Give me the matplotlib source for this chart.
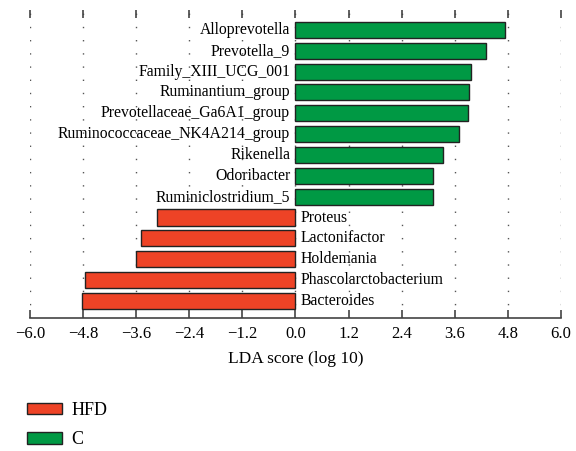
import matplotlib
matplotlib.use('Agg')
import matplotlib.pyplot as plt
from matplotlib.patches import Patch

# taxa from top to bottom
taxa = ["Alloprevotella", "Prevotella_9", "Family_XIII_UCG_001",
        "Ruminantium_group", "Prevotellaceae_Ga6A1_group",
        "Ruminococcaceae_NK4A214_group", "Rikenella", "Odoribacter",
        "Ruminiclostridium_5", "Proteus", "Lactonifactor", "Holdemania",
        "Phascolarctobacterium", "Bacteroides"]
lda = [4.73, 4.30, 3.96, 3.91, 3.89, 3.70, 3.33, 3.10, 3.10,
       -3.14, -3.50, -3.60, -4.75, -4.82]
groups = ["C"] * 9 + ["HFD"] * 5

colors = {"HFD": "#EE4326", "C": "#009944"}
ticks = [-6.0, -4.8, -3.6, -2.4, -1.2, 0.0, 1.2, 2.4, 3.6, 4.8, 6.0]

plt.rcParams['font.family'] = ['Liberation Serif', 'DejaVu Serif']

fig = plt.figure(figsize=(5.76, 4.51), dpi=100)
ax = fig.add_axes([0.052, 0.295, 0.922, 0.683])

n = len(taxa)
ypos = [n - 1 - i for i in range(n)]
ax.barh(ypos, lda, height=0.77, color=[colors[g] for g in groups],
        edgecolor='#222222', linewidth=1.0, zorder=2)

for y, name, v in zip(ypos, taxa, lda):
    if v > 0:
        ax.text(-0.12, y, name, ha='right', va='center', fontsize=11.3, zorder=3)
    else:
        ax.text(0.12, y, name, ha='left', va='center', fontsize=11.3, zorder=3)

ax.set_xlim(-6.0, 6.0)
ax.set_ylim(-0.82, n - 1 + 0.96)
ax.set_xticks(ticks)
ax.set_xticklabels(["\u2212%.1f" % abs(t) if t < 0 else "%.1f" % t for t in ticks],
                   fontsize=12)
ax.set_yticks([])
ax.set_xlabel("LDA score (log 10)", fontsize=12.5, labelpad=6)

for t in ticks:
    ax.axvline(t, color='#555555', linewidth=1.0, linestyle=(0, (1, 8.5)), zorder=1)

for s in ['left', 'right', 'top']:
    ax.spines[s].set_visible(False)
ax.spines['bottom'].set_color('#444444')
ax.spines['bottom'].set_linewidth(1.2)
ax.tick_params(axis='x', direction='in', top=True, length=6, width=1.2,
               color='#444444', pad=6)

handles = [Patch(facecolor=colors["HFD"], edgecolor='#222222', label="HFD"),
           Patch(facecolor=colors["C"], edgecolor='#222222', label="C")]
fig.legend(handles=handles, loc='upper left', bbox_to_anchor=(0.035, 0.125),
           frameon=False, fontsize=13, handlelength=1.9, handleheight=0.6,
           labelspacing=0.7, handletextpad=0.55, borderaxespad=0)

fig.savefig("out.png", dpi=100)
